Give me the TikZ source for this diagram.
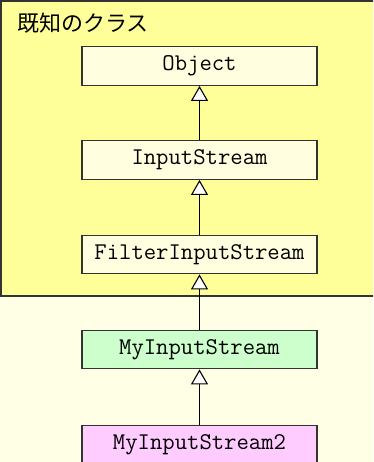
\documentclass[tikz,border=0pt]{standalone}
\usepackage{fontspec}
\newfontfamily\jpfont{Noto Sans CJK JP}
\usetikzlibrary{arrows.meta}
\definecolor{pagebg}{HTML}{FFFFE6}
\definecolor{knownbg}{HTML}{FFFF99}
\definecolor{classbg}{HTML}{FFFFE0}
\definecolor{greenbg}{HTML}{CCFFCC}
\definecolor{pinkbg}{HTML}{FFCCFF}
\definecolor{edge}{HTML}{333333}
\tikzset{
  classbox/.style={draw=edge, line width=1.3pt, fill=classbg, minimum width=235pt,
    minimum height=38.5pt, inner sep=0pt, font=\ttfamily\fontsize{24}{26}\selectfont},
  inherit/.style={draw=black, line width=1.3pt,
    -{Triangle[open, length=15pt, width=17pt, line width=1.1pt, fill=white]}},
}
\begin{document}
\begin{tikzpicture}[x=1pt, y=-1pt]
  \useasboundingbox (0,0) rectangle (373,462);
  \clip (0,0) rectangle (373,462);
  \fill[pagebg] (0,0) rectangle (373,462);
  % frame of the known classes
  \draw[edge, line width=1.3pt, fill=knownbg] (1,1) rectangle (385,296);
  \node[anchor=west, inner sep=0pt, font=\jpfont\fontsize{22}{24}\selectfont] (title) at (17,23) {既知のクラス};
  % classes
  \node[classbox] (obj) at (199.5,66) {Object};
  \node[classbox] (ins) at (199.5,160) {InputStream};
  \node[classbox] (fis) at (199.5,254.5) {FilterInputStream};
  \node[classbox, fill=greenbg] (mis) at (199.5,349.5) {MyInputStream};
  \node[classbox, fill=pinkbg] (mis2) at (199.5,444.5) {MyInputStream2};
  % generalisation arrows
  \draw[inherit] (ins) -- (obj);
  \draw[inherit] (fis) -- (ins);
  \draw[inherit] (mis) -- (fis);
  \draw[inherit] (mis2) -- (mis);
\end{tikzpicture}
\end{document}
